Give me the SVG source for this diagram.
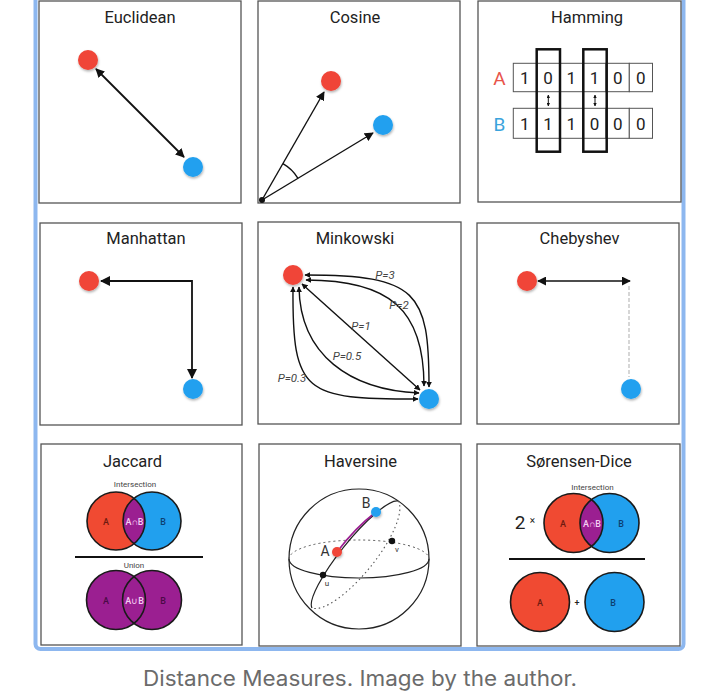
<svg xmlns="http://www.w3.org/2000/svg" width="716" height="699" viewBox="0 0 716 699">
<style>
.panel{fill:#fff;stroke:#555;stroke-width:1.3}
.title{font-family:Roboto,"Liberation Sans",sans-serif;font-size:16.5px;fill:#222;text-anchor:middle}
.red{fill:#f04437}
.blue{fill:#21a0ef}
.dot{filter:url(#sh)}
.conn{fill:none;stroke:#111;stroke-width:1.8}
.thin{fill:none;stroke:#111;stroke-width:1.4}
.mk{font-family:Roboto,"Liberation Sans",sans-serif;font-size:11.5px;font-style:italic;fill:#444;text-anchor:middle}
.cell{fill:#fff;stroke:#555;stroke-width:1}
.dig{font-family:Roboto,"Liberation Sans",sans-serif;font-size:17px;fill:#222;text-anchor:middle}
.hl{fill:none;stroke:#111;stroke-width:2.5}
.vo{fill:none;stroke:#1a1a1a;stroke-width:1.6}
.vl{font-family:Roboto,"Liberation Sans",sans-serif;font-size:9px;font-weight:500;text-anchor:middle}
.small{font-family:Roboto,"Liberation Sans",sans-serif;font-size:8px;fill:#444;text-anchor:middle}
.vred{fill:#f04a32}
.vblue{fill:#21a0ee}
.vpur{fill:#9b1f91}
</style>
<defs>
<filter id="sh" x="-60%" y="-60%" width="220%" height="220%">
<feDropShadow dx="0.6" dy="1.6" stdDeviation="1.3" flood-color="#000" flood-opacity="0.3"/>
</filter>
<marker id="ah" viewBox="0 0 10 10" refX="9" refY="5" markerWidth="9" markerHeight="9" markerUnits="userSpaceOnUse" orient="auto-start-reverse">
<path d="M0,0 L10,5 L0,10 z" fill="#111"/>
</marker>
<marker id="ahl" viewBox="0 0 10 10" refX="9" refY="5" markerWidth="11" markerHeight="10" markerUnits="userSpaceOnUse" orient="auto-start-reverse">
<path d="M0,0 L10,5 L0,10 z" fill="#111"/>
</marker>
<marker id="ahs" viewBox="0 0 10 10" refX="9" refY="5" markerWidth="6" markerHeight="6" markerUnits="userSpaceOnUse" orient="auto-start-reverse">
<path d="M0,0 L10,5 L0,10 z" fill="#111"/>
</marker>
<marker id="aht" viewBox="0 0 10 10" refX="9" refY="5" markerWidth="3.5" markerHeight="3.5" markerUnits="userSpaceOnUse" orient="auto-start-reverse">
<path d="M0,0 L10,5 L0,10 z" fill="#111"/>
</marker>
<clipPath id="jA"><circle cx="116" cy="521" r="29"/></clipPath>
<clipPath id="sA"><circle cx="573.5" cy="523" r="29.5"/></clipPath>
</defs>

<rect x="0" y="0" width="716" height="699" fill="#fff"/>
<rect x="35.5" y="-10" width="648" height="659" rx="5" fill="none" stroke="#8db7ef" stroke-width="4"/>

<!-- Euclidean -->
<g id="euclidean">
<rect class="panel" x="39" y="1" width="202" height="202"/>
<text class="title" x="140" y="23">Euclidean</text>
<g id="euclidean-connectors">
<line class="conn" x1="96" y1="69" x2="184" y2="157" marker-start="url(#ah)" marker-end="url(#ah)"/>
</g>
<circle class="red dot" cx="88" cy="60" r="10"/>
<circle class="blue dot" cx="193" cy="167" r="10"/>
</g>

<!-- Cosine -->
<g id="cosine">
<rect class="panel" x="258" y="1" width="202" height="202"/>
<text class="title" x="355" y="23">Cosine</text>
<g id="cosine-connectors">
<line class="thin" x1="262" y1="200" x2="324" y2="92" marker-end="url(#ah)"/>
<line class="thin" x1="262" y1="200" x2="373" y2="133" marker-end="url(#ah)"/>
<path class="thin" d="M282.9,163.6 A42,42 0 0 1 298,178.3"/>
</g>
<circle cx="262" cy="200" r="3" fill="#111"/>
<circle class="red dot" cx="331" cy="81" r="10"/>
<circle class="blue dot" cx="383" cy="125" r="10"/>
</g>

<!-- Hamming -->
<g id="hamming">
<rect class="panel" x="478" y="1" width="203" height="201"/>
<text class="title" x="587" y="23">Hamming</text>
<text x="499.5" y="85" font-family="Roboto,'Liberation Sans',sans-serif" font-size="19" fill="#e8534a" text-anchor="middle">A</text>
<text x="499.5" y="131" font-family="Roboto,'Liberation Sans',sans-serif" font-size="19" fill="#3aa3dc" text-anchor="middle">B</text>
<g id="hamming-row-a">
<rect class="cell" x="513.3" y="63.3" width="23.2" height="28.4"/>
<rect class="cell" x="536.5" y="63.3" width="23.2" height="28.4"/>
<rect class="cell" x="559.7" y="63.3" width="23.2" height="28.4"/>
<rect class="cell" x="582.9" y="63.3" width="23.2" height="28.4"/>
<rect class="cell" x="606.1" y="63.3" width="23.2" height="28.4"/>
<rect class="cell" x="629.3" y="63.3" width="23.2" height="28.4"/>
<text class="dig" x="524.9" y="84">1</text>
<text class="dig" x="548.1" y="84">0</text>
<text class="dig" x="571.3" y="84">1</text>
<text class="dig" x="594.5" y="84">1</text>
<text class="dig" x="617.7" y="84">0</text>
<text class="dig" x="640.9" y="84">0</text>
</g>
<g id="hamming-row-b">
<rect class="cell" x="513.3" y="108.3" width="23.2" height="30"/>
<rect class="cell" x="536.5" y="108.3" width="23.2" height="30"/>
<rect class="cell" x="559.7" y="108.3" width="23.2" height="30"/>
<rect class="cell" x="582.9" y="108.3" width="23.2" height="30"/>
<rect class="cell" x="606.1" y="108.3" width="23.2" height="30"/>
<rect class="cell" x="629.3" y="108.3" width="23.2" height="30"/>
<text class="dig" x="524.9" y="130">1</text>
<text class="dig" x="548.1" y="130">1</text>
<text class="dig" x="571.3" y="130">1</text>
<text class="dig" x="594.5" y="130">0</text>
<text class="dig" x="617.7" y="130">0</text>
<text class="dig" x="640.9" y="130">0</text>
</g>
<rect class="hl" x="536.7" y="49.3" width="23.3" height="102.4"/>
<rect class="hl" x="583.3" y="49.3" width="23.4" height="102.4"/>
<g id="hamming-connectors">
<line x1="548.3" y1="95" x2="548.3" y2="106" stroke="#111" stroke-width="1" marker-start="url(#aht)" marker-end="url(#aht)"/>
<line x1="595" y1="95" x2="595" y2="106" stroke="#111" stroke-width="1" marker-start="url(#aht)" marker-end="url(#aht)"/>
</g>
</g>

<!-- Manhattan -->
<g id="manhattan">
<rect class="panel" x="40" y="223" width="202" height="202"/>
<text class="title" x="146" y="244">Manhattan</text>
<g id="manhattan-connectors">
<path class="conn" d="M101,281 H192 V378" marker-start="url(#ahl)" marker-end="url(#ahl)"/>
</g>
<circle class="red dot" cx="89" cy="281" r="10"/>
<circle class="blue dot" cx="193" cy="389" r="10"/>
</g>

<!-- Minkowski -->
<g id="minkowski">
<rect class="panel" x="258" y="222" width="203" height="202"/>
<text class="title" x="355" y="244">Minkowski</text>
<g id="minkowski-connectors">
<path class="thin" d="M305,275 C418,275 429,292 429,387" marker-start="url(#ahs)" marker-end="url(#ahs)"/>
<path class="thin" d="M306,280 C390,280 424,310 424,386" marker-start="url(#ahs)" marker-end="url(#ahs)"/>
<path class="thin" d="M302,284 L420,390" marker-start="url(#ahs)" marker-end="url(#ahs)"/>
<path class="thin" d="M299,287 C300,355 350,390 419,393" marker-start="url(#ahs)" marker-end="url(#ahs)"/>
<path class="thin" d="M293,287 C292,395 305,399 418,399" marker-start="url(#ahs)" marker-end="url(#ahs)"/>
</g>
<text class="mk" x="385" y="279">P=3</text>
<text class="mk" x="399" y="309">P=2</text>
<text class="mk" x="361" y="330">P=1</text>
<text class="mk" x="347" y="360">P=0.5</text>
<text class="mk" x="292" y="382">P=0.3</text>
<circle class="red dot" cx="293" cy="275" r="10"/>
<circle class="blue dot" cx="429" cy="399" r="10"/>
</g>

<!-- Chebyshev -->
<g id="chebyshev">
<rect class="panel" x="477" y="223" width="202" height="201"/>
<text class="title" x="579.5" y="244">Chebyshev</text>
<g id="chebyshev-connectors">
<line class="thin" x1="538" y1="281" x2="630" y2="281" marker-start="url(#ah)" marker-end="url(#ah)"/>
<line x1="629" y1="286" x2="629" y2="377" stroke="#bbb" stroke-width="1.2" stroke-dasharray="4 2"/>
</g>
<circle class="red dot" cx="527" cy="281" r="10"/>
<circle class="blue dot" cx="631" cy="389" r="10"/>
</g>

<!-- Jaccard -->
<g id="jaccard">
<rect class="panel" x="41" y="444" width="201" height="201"/>
<text class="title" x="132.5" y="467">Jaccard</text>
<text class="small" x="135" y="487">Intersection</text>
<circle class="vred" cx="116" cy="521" r="29"/>
<circle class="vblue" cx="152" cy="521" r="29"/>
<circle class="vpur" cx="152" cy="521" r="29" clip-path="url(#jA)"/>
<circle class="vo" cx="116" cy="521" r="29"/>
<circle class="vo" cx="152" cy="521" r="29"/>
<text class="vl" x="106" y="524.5" fill="#6e1a10">A</text>
<text class="vl" x="134.5" y="524.5" fill="#f5cff3">A∩B</text>
<text class="vl" x="163" y="524.5" fill="#0c3f70">B</text>
<line x1="75" y1="557" x2="203" y2="557" stroke="#111" stroke-width="2"/>
<text class="small" x="134" y="568">Union</text>
<circle class="vpur" cx="116" cy="600" r="29.5"/>
<circle class="vpur" cx="152" cy="600" r="29.5"/>
<circle class="vo" cx="116" cy="600" r="29.5"/>
<circle class="vo" cx="152" cy="600" r="29.5"/>
<text class="vl" x="106" y="603.5" fill="#4a0a45">A</text>
<text class="vl" x="134.5" y="603.5" fill="#f5cff3">A∪B</text>
<text class="vl" x="163" y="603.5" fill="#4a0a45">B</text>
</g>

<!-- Haversine -->
<g id="haversine">
<rect class="panel" x="259" y="444" width="202" height="202"/>
<text class="title" x="360.5" y="467">Haversine</text>
<circle cx="359" cy="559" r="70" fill="none" stroke="#222" stroke-width="1.2"/>
<path d="M289,559 A70,19 0 0 1 429,559" fill="none" stroke="#555" stroke-width="1" stroke-dasharray="2 3"/>
<path d="M289,559 A70,19 0 0 0 429,559" fill="none" stroke="#222" stroke-width="1.2"/>
<path d="M398,501 A69,22 -51 0 1 312,608" fill="none" stroke="#555" stroke-width="1.1" stroke-dasharray="1.5 3"/>
<path d="M312,608 A69,15 -51 0 1 398,501" fill="none" stroke="#222" stroke-width="1.2"/>
<g id="haversine-connectors">
<path d="M337,552 Q355,528 376,512" fill="none" stroke="#9b1f91" stroke-width="1.6"/>
</g>
<circle cx="323" cy="575" r="3.2" fill="#111"/>
<circle cx="392" cy="541" r="3.2" fill="#111"/>
<circle class="red dot" cx="337" cy="552" r="5"/>
<circle class="blue dot" cx="376" cy="512" r="5"/>
<text x="325" y="556" font-family="Roboto,'Liberation Sans',sans-serif" font-size="14" fill="#333" text-anchor="middle">A</text>
<text x="366" y="508" font-family="Roboto,'Liberation Sans',sans-serif" font-size="14" fill="#333" text-anchor="middle">B</text>
<text x="327" y="586" font-family="Roboto,'Liberation Sans',sans-serif" font-size="8" fill="#333" text-anchor="middle">u</text>
<text x="397" y="552" font-family="Roboto,'Liberation Sans',sans-serif" font-size="8" fill="#333" text-anchor="middle">v</text>
</g>

<!-- Sorensen-Dice -->
<g id="sorensen-dice">
<rect class="panel" x="477" y="444" width="203" height="202"/>
<text class="title" x="579" y="467">Sørensen-Dice</text>
<text class="small" x="592.5" y="490">Intersection</text>
<text x="520" y="529" font-family="Roboto,'Liberation Sans',sans-serif" font-size="19" fill="#222" text-anchor="middle">2</text>
<text x="532.5" y="524" font-family="Roboto,'Liberation Sans',sans-serif" font-size="10" fill="#222" text-anchor="middle">×</text>
<circle class="vred" cx="573.5" cy="523" r="29.5"/>
<circle class="vblue" cx="609.5" cy="523" r="29.5"/>
<circle class="vpur" cx="609.5" cy="523" r="29.5" clip-path="url(#sA)"/>
<circle class="vo" cx="573.5" cy="523" r="29.5"/>
<circle class="vo" cx="609.5" cy="523" r="29.5"/>
<text class="vl" x="563" y="526.5" fill="#6e1a10">A</text>
<text class="vl" x="592" y="526.5" fill="#f5cff3">A∩B</text>
<text class="vl" x="621" y="526.5" fill="#0c3f70">B</text>
<line x1="509" y1="559" x2="645" y2="559" stroke="#111" stroke-width="2"/>
<circle class="vred" cx="540" cy="602" r="29.5"/>
<circle class="vblue" cx="614.5" cy="602" r="29.5"/>
<circle class="vo" cx="540" cy="602" r="29.5"/>
<circle class="vo" cx="614.5" cy="602" r="29.5"/>
<text class="vl" x="540" y="605.5" fill="#6e1a10">A</text>
<text class="vl" x="577" y="605.5" fill="#222">+</text>
<text class="vl" x="613" y="605.5" fill="#0c3f70">B</text>
</g>

<text x="360" y="686" font-family="Inter,'Liberation Sans',sans-serif" font-size="21" fill="#6b6b6b" text-anchor="middle" textLength="434" lengthAdjust="spacingAndGlyphs">Distance Measures. Image by the author.</text>
</svg>
